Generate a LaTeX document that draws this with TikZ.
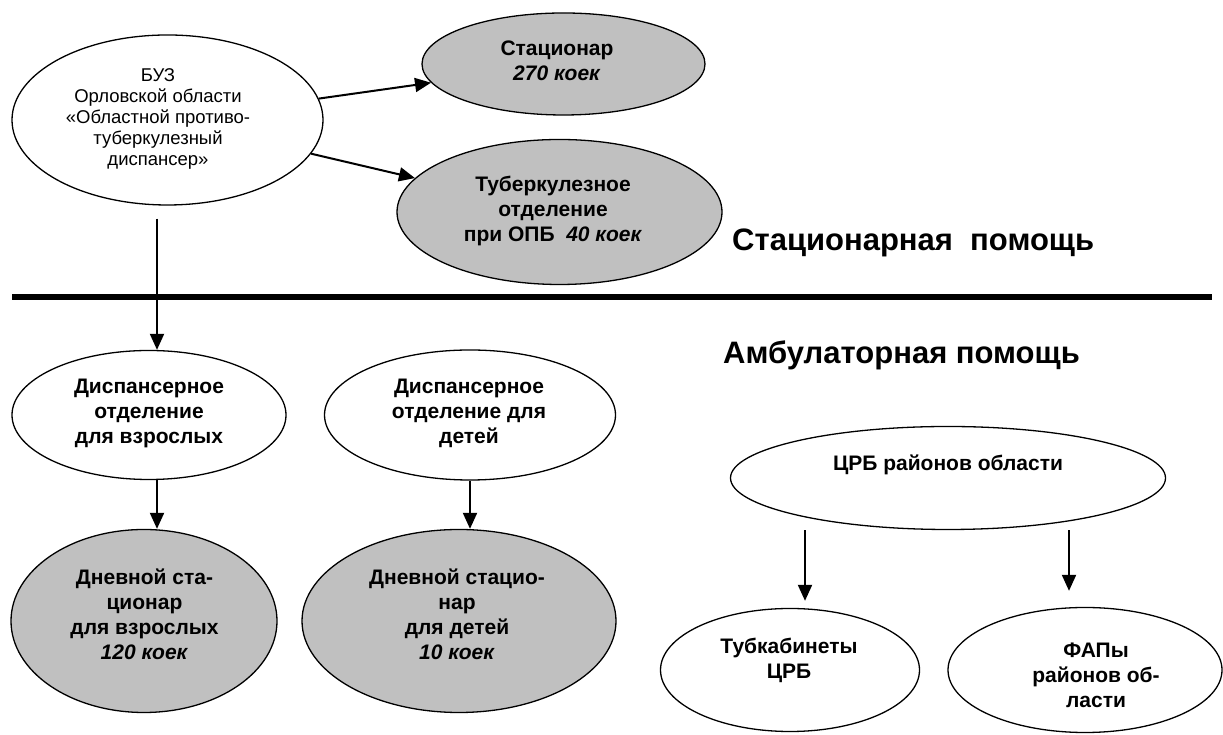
\documentclass[tikz,border=0pt]{standalone}
\usepackage{fontspec}
\setmainfont{Liberation Sans}
\usetikzlibrary{shapes.geometric,arrows.meta}
\definecolor{shade}{HTML}{C0C0C0}
\tikzset{
  ell/.style={ellipse, draw, line width=1.3pt, inner sep=0pt},
  grayell/.style={ell, fill=shade},
  arr/.style={line width=2pt, -{Triangle[length=16pt,width=14pt]}},
  btxt/.style={align=center, font=\bfseries\fontsize{21}{25}\selectfont, inner sep=0pt},
  rtxt/.style={align=center, font=\fontsize{18.5}{21}\selectfont, inner sep=0pt},
  head/.style={anchor=west, font=\bfseries\fontsize{31}{36}\selectfont, inner sep=0pt},
}
\begin{document}
\begin{tikzpicture}[x=1pt,y=1pt]
\useasboundingbox (0,0) rectangle (1223,735);
% ellipses
\node[ell, minimum width=311pt, minimum height=170pt] (buz) at (167.5,615) {};
\node[grayell, minimum width=283pt, minimum height=102pt] (stat) at (563.5,671) {};
\node[grayell, minimum width=325pt, minimum height=145pt] (tub) at (559.5,523) {};
\node[ell, minimum width=274pt, minimum height=129pt] (dvz) at (149,320) {};
\node[ell, minimum width=291pt, minimum height=130pt] (dvd) at (470,320) {};
\node[grayell, minimum width=266pt, minimum height=183pt] (dnvz) at (144,114) {};
\node[grayell, minimum width=314pt, minimum height=183pt] (dnd) at (459,114) {};
\node[ell, minimum width=435pt, minimum height=103pt] (crb) at (948,257) {};
\node[ell, minimum width=259pt, minimum height=123pt] (tbk) at (790,65) {};
\node[ell, minimum width=274pt, minimum height=125pt] (fap) at (1085,65) {};
% texts
\node[rtxt] (buzt) at (158,616) {БУЗ\\Орловской области\\«Областной противо-\\туберкулезный\\диспансер»};
\node[btxt] (statt) at (557,674) {Стационар\\\textit{270 коек}};
\node[btxt] (tubt) at (553,524) {Туберкулезное\\отделение\\при ОПБ\ \ \textit{40 коек}};
\node[btxt] (dvzt) at (149,322) {Диспансерное\\отделение\\для взрослых};
\node[btxt] (dvdt) at (469,322) {Диспансерное\\отделение для\\детей};
\node[btxt] (dnvzt) at (144.5,121) {Дневной ста-\\ционар\\для взрослых\\\textit{120 коек}};
\node[btxt] (dndt) at (457,121) {Дневной стацио-\\нар\\для детей\\\textit{10 коек}};
\node[btxt] (crbt) at (948,270) {ЦРБ районов области};
\node[btxt] (tbkt) at (789,75) {Тубкабинеты\\ЦРБ};
\node[btxt] (fapt) at (1096,60) {ФАПы\\районов об-\\ласти};
% headings and separator
\node[head] (stath) at (732,492) {Стационарная\ \ помощь};
\node[head] (ambh) at (723,380) {Амбулаторная помощь};
\draw[line width=6pt] (12,438) -- (1212,438);
% connectors
\draw[arr] (buz) -- (stat);
\draw[arr] (buz) -- (tub);
\draw[arr] ([xshift=-10.5pt,yshift=-13pt]buz.south) -- ([xshift=-10.5pt]buz.south |- dvz.north);
\draw[arr] ([xshift=8pt]dvz.south) -- ([xshift=8pt]dvz.south |- dnvz.north);
\draw[arr] (dvd.south) -- (dvd.south |- dnd.north);
\draw[arr] ([xshift=-143pt]crb.south) -- ([xshift=15pt,yshift=7pt]tbk.north);
\draw[arr] ([xshift=121pt]crb.south) -- ([xshift=-16pt,yshift=16pt]fap.north);
\end{tikzpicture}
\end{document}
